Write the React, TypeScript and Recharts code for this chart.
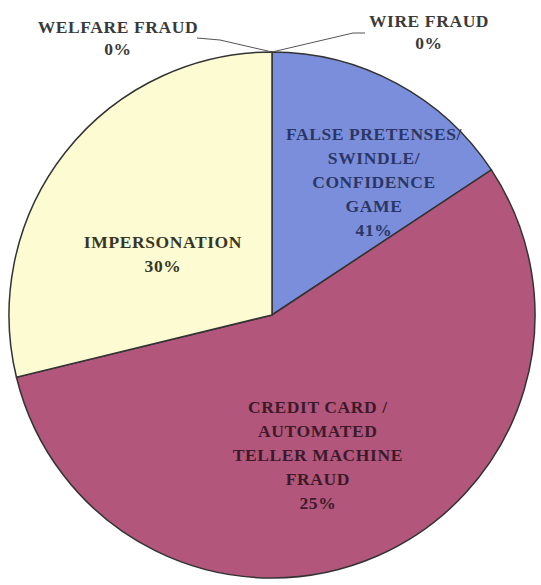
import { PieChart, Pie, Cell } from "recharts";

// clockwise from 12 o'clock
const categories = [
  "WIRE FRAUD",
  "FALSE PRETENSES/ SWINDLE/ CONFIDENCE GAME",
  "CREDIT CARD / AUTOMATED TELLER MACHINE FRAUD",
  "IMPERSONATION",
  "WELFARE FRAUD",
];
// slice sizes as drawn (share of the circle, %)
const sliceValues = [0, 15.7, 55.5, 28.8, 0];
// percentages printed on the chart
const printedPercents = ["0%", "41%", "25%", "30%", "0%"];
const labelLines = [
  ["WIRE FRAUD"],
  ["FALSE PRETENSES/", "SWINDLE/", "CONFIDENCE", "GAME"],
  ["CREDIT CARD /", "AUTOMATED", "TELLER MACHINE", "FRAUD"],
  ["IMPERSONATION"],
  ["WELFARE FRAUD"],
];

const colors = ["#7a8edb", "#7a8edb", "#b2567b", "#fdfbd2", "#fdfbd2"];
const textColors = ["#3a3a3a", "#2c3664", "#3d1a2a", "#363626", "#3a3a3a"];

const data = categories.map((name, i) => ({
  name,
  value: sliceValues[i],
  pct: printedPercents[i],
  lines: labelLines[i],
}));

// label placement relative to the slice: angle shift (deg), radius fraction
const inside: Record<number, { da: number; rf: number }> = {
  1: { da: -8.7, rf: 0.645 },
  2: { da: -5.1, rf: 0.55 },
  3: { da: 7.9, rf: 0.48 },
};

const RAD = Math.PI / 180;
const lineH = 24;
const serif = '"Liberation Serif", "Times New Roman", "DejaVu Serif", serif';

function renderLabel(props: any) {
  const { cx, cy, midAngle, outerRadius, index } = props;
  const item = data[index];
  const rows = [...item.lines, item.pct];
  const fill = textColors[index];
  const style = {
    fontFamily: serif,
    fontWeight: 700,
    fontSize: 17.5,
    letterSpacing: 0.6,
  };

  if (inside[index]) {
    const { da, rf } = inside[index];
    const a = (midAngle + da) * RAD;
    const x = cx + Math.cos(a) * outerRadius * rf;
    const y = cy - Math.sin(a) * outerRadius * rf;
    const top = y - ((rows.length - 1) * lineH) / 2 + 9;
    return (
      <text key={`l-${index}`} textAnchor="middle" fill={fill} style={style}>
        {rows.map((r, j) => (
          <tspan key={j} x={x} y={top + j * lineH}>
            {r}
          </tspan>
        ))}
      </text>
    );
  }

  // zero slices at the top: leader line out to the side
  const a = midAngle * RAD;
  const px = cx + Math.cos(a) * outerRadius;
  const py = cy - Math.sin(a) * outerRadius;
  const right = index === 0;
  const bend = right ? [px + 81, py - 19] : [px - 52, py - 12];
  const end = right ? [bend[0] + 12, bend[1]] : [bend[0] - 23, bend[1] - 2];
  const tx = right ? px + 157 : px - 154;
  const ty = right ? py - 25 : py - 19;
  return (
    <g key={`l-${index}`}>
      <polyline
        points={`${px},${py} ${bend[0]},${bend[1]} ${end[0]},${end[1]}`}
        fill="none"
        stroke="#555"
        strokeWidth={1}
      />
      <text textAnchor="middle" fill={fill} style={style}>
        {rows.map((r, j) => (
          <tspan key={j} x={tx} y={ty + j * 22}>
            {r}
          </tspan>
        ))}
      </text>
    </g>
  );
}

export default function App() {
  return (
    <div style={{ position: "absolute", left: 0, top: 0, background: "#fff" }}>
      <PieChart
        width={541}
        height={585}
        margin={{ top: 0, right: 0, bottom: 0, left: 0 }}
      >
        <Pie
          data={data}
          dataKey="value"
          nameKey="name"
          cx={272}
          cy={315}
          outerRadius={263}
          startAngle={90}
          endAngle={-270}
          stroke="#333"
          strokeWidth={1.5}
          label={renderLabel}
          labelLine={false}
          isAnimationActive={false}
        >
          {data.map((d, i) => (
            <Cell key={d.name} fill={colors[i]} />
          ))}
        </Pie>
      </PieChart>
    </div>
  );
}
